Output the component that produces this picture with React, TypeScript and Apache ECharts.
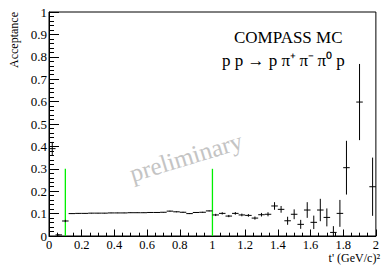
import React, { useEffect, useRef } from "react";
import * as echarts from "echarts";

// t' bin centres (GeV/c)^2, bin width 0.04
const binCenters = [
  0.02, 0.06, 0.10, 0.14, 0.18, 0.22, 0.26, 0.30, 0.34, 0.38, 0.42, 0.46, 0.50,
  0.54, 0.58, 0.62, 0.66, 0.70, 0.74, 0.78, 0.82, 0.86, 0.90, 0.94, 0.98,
  1.02, 1.06, 1.10, 1.14, 1.18, 1.22, 1.26, 1.30, 1.34, 1.38, 1.42, 1.46, 1.50,
  1.54, 1.58, 1.62, 1.66, 1.70, 1.74, 1.78, 1.82, 1.90, 1.98,
];
const acceptance = [
  0.39, 0.005, 0.067, 0.100, 0.101, 0.101, 0.102, 0.102, 0.102, 0.103, 0.103, 0.103, 0.104,
  0.104, 0.104, 0.105, 0.105, 0.106, 0.111, 0.108, 0.106, 0.100, 0.105, 0.106, 0.112,
  0.094, 0.101, 0.089, 0.101, 0.094, 0.092, 0.080, 0.095, 0.097, 0.134, 0.119, 0.068, 0.097,
  0.052, 0.116, 0.061, 0.116, 0.083, 0.016, 0.101, 0.305, 0.598, 0.220,
];
const acceptanceErr = [
  0.03, 0.003, 0.005, 0.001, 0.001, 0.001, 0.001, 0.001, 0.001, 0.001, 0.001, 0.001, 0.001,
  0.001, 0.001, 0.001, 0.001, 0.001, 0.002, 0.002, 0.002, 0.002, 0.002, 0.002, 0.002,
  0.005, 0.005, 0.005, 0.006, 0.006, 0.006, 0.007, 0.008, 0.009, 0.017, 0.015, 0.018, 0.022,
  0.02, 0.035, 0.03, 0.05, 0.04, 0.028, 0.06, 0.12, 0.17, 0.13,
];
const binHalfWidth = 0.02;
// green cut lines
const cutPositions = [0.1, 1.0];
const cutHeights = [0.3, 0.3];

const FONT = "Liberation Serif";

export default function App() {
  const ref = useRef<HTMLDivElement>(null);
  useEffect(() => {
    if (!ref.current) return;
    const chart = echarts.init(ref.current, undefined, { renderer: "svg" });
    const data = binCenters.map((x, i) => [x, acceptance[i], acceptanceErr[i]]);
    const cuts = cutPositions.map((x, i) => [x, cutHeights[i]]);
    const option: any = {
      animation: false,
      backgroundColor: "#fff",
      textStyle: { fontFamily: FONT },
      grid: {
        left: 49,
        right: 3,
        top: 12,
        bottom: 30,
        show: true,
        borderColor: "#000",
        borderWidth: 1,
        backgroundColor: "transparent",
      },
      xAxis: {
        type: "value",
        min: 0,
        max: 2,
        interval: 0.2,
        axisLine: { lineStyle: { color: "#000", width: 1 } },
        axisTick: { inside: true, length: 6.5, lineStyle: { color: "#000" } },
        minorTick: { show: true, splitNumber: 4, length: 3.3, lineStyle: { color: "#000" } },
        splitLine: { show: false },
        minorSplitLine: { show: false },
        axisLabel: {
          color: "#000",
          fontFamily: FONT,
          fontSize: 12.5,
          margin: 2,
          formatter: (v: number) => String(+v.toFixed(1)),
        },
      },
      yAxis: {
        type: "value",
        min: 0,
        max: 1,
        interval: 0.1,
        axisLine: { show: true, lineStyle: { color: "#000", width: 1 } },
        axisTick: { show: true, inside: true, length: 10, lineStyle: { color: "#000" } },
        minorTick: { show: true, splitNumber: 5, length: 5, lineStyle: { color: "#000" } },
        splitLine: { show: false },
        minorSplitLine: { show: false },
        axisLabel: {
          color: "#000",
          fontFamily: FONT,
          fontSize: 13,
          margin: 2,
          formatter: (v: number) => String(+v.toFixed(1)),
        },
      },
      series: [
        {
          type: "custom",
          clip: true,
          data: cuts,
          encode: { x: 0, y: 1 },
          renderItem: (params: any, api: any) => {
            const x = api.value(0);
            const h = api.value(1);
            const p0 = api.coord([x, 0]);
            const p1 = api.coord([x, h]);
            return {
              type: "line",
              shape: { x1: p0[0], y1: p0[1], x2: p1[0], y2: p1[1] },
              style: { stroke: "#00f000", lineWidth: 1.3 },
            };
          },
        },
        {
          type: "custom",
          clip: true,
          data,
          encode: { x: 0, y: 1 },
          renderItem: (params: any, api: any) => {
            const x = api.value(0);
            const y = api.value(1);
            const e = api.value(2);
            const l = api.coord([x - binHalfWidth, y]);
            const r = api.coord([x + binHalfWidth, y]);
            const t = api.coord([x, y + e]);
            const b = api.coord([x, Math.max(0, y - e)]);
            return {
              type: "group",
              children: [
                {
                  type: "line",
                  shape: { x1: l[0], y1: l[1], x2: r[0], y2: r[1] },
                  style: { stroke: "#000", lineWidth: 1 },
                },
                {
                  type: "line",
                  shape: { x1: t[0], y1: t[1], x2: b[0], y2: b[1] },
                  style: { stroke: "#000", lineWidth: 1 },
                },
              ],
            };
          },
        },
      ],
      graphic: [
        {
          type: "text",
          x: 186,
          y: 157,
          rotation: (17 * Math.PI) / 180,
          z: -1,
          style: {
            text: "preliminary",
            fill: "#c4c4c4",
            fontFamily: FONT,
            fontSize: 25,
            align: "center",
            verticalAlign: "middle",
          },
        },
        {
          type: "text",
          x: 234,
          y: 37,
          style: {
            text: "COMPASS MC",
            fill: "#000",
            fontFamily: FONT,
            fontSize: 17,
            align: "left",
            verticalAlign: "middle",
          },
        },
        {
          type: "text",
          x: 222,
          y: 60,
          style: {
            text: "p p \u2192 p \u03c0\u207a\u2009\u03c0\u207b\u2009\u03c0\u2070 p",
            fill: "#000",
            fontFamily: FONT,
            fontSize: 17,
            align: "left",
            verticalAlign: "middle",
          },
        },
        {
          type: "text",
          x: 14,
          y: 12,
          rotation: Math.PI / 2,
          style: {
            text: "Acceptance",
            fill: "#000",
            fontFamily: FONT,
            fontSize: 12,
            align: "right",
            verticalAlign: "middle",
          },
        },
        {
          type: "text",
          x: 380,
          y: 257.5,
          style: {
            text: "t' (GeV/c)\u00b2",
            fill: "#000",
            fontFamily: FONT,
            fontSize: 12,
            align: "right",
            verticalAlign: "middle",
          },
        },
      ],
    };
    chart.setOption(option);
    return () => chart.dispose();
  }, []);
  return (
    <div
      ref={ref}
      style={{ position: "fixed", left: 0, top: 0, width: 382, height: 266, background: "#fff" }}
    />
  );
}
